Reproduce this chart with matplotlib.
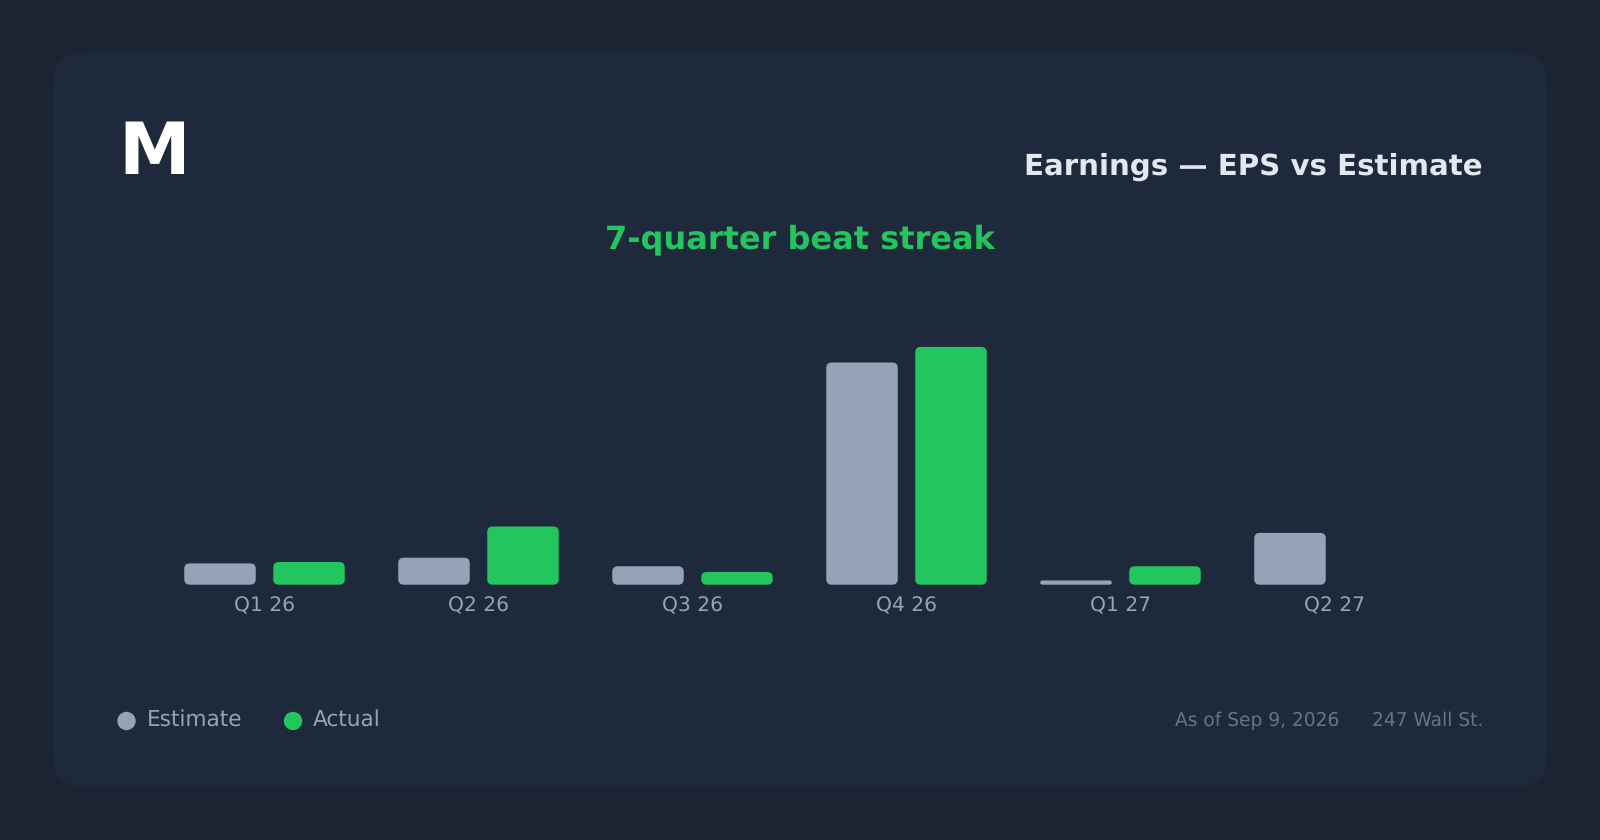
import matplotlib
matplotlib.use("Agg")
import matplotlib.pyplot as plt
from matplotlib.patches import FancyBboxPatch, Circle
from matplotlib.transforms import IdentityTransform

# ---- data ----
quarters = ["Q1 26", "Q2 26", "Q3 26", "Q4 26", "Q1 27", "Q2 27"]
estimate = [0.15, 0.19, 0.13, 1.565, 0.03, 0.365]
actual = [0.16, 0.41, 0.09, 1.675, 0.13, None]

W, H = 1600, 840
BG = "#1b2433"
CARD = "#1e293b"
GREY = "#94a3b8"
GREEN = "#22c55e"
MUTED = "#64748b"
LIGHT = "#e2e8f0"
plt.rcParams["font.family"] = "DejaVu Sans"
plt.rcParams["text.hinting"] = "no_hinting"


def pt(px):
    return px * 72 / 100


fig = plt.figure(figsize=(W / 100, H / 100), dpi=100, facecolor=BG)


def ftext(x, y, s, **kw):
    return fig.text(x / W, 1 - y / H, s, **kw)


# card
fig.add_artist(FancyBboxPatch((53, H - 786.5), 1494, 733.5,
                              boxstyle="round,pad=0,rounding_size=32",
                              transform=IdentityTransform(), fc=CARD, ec="none", zorder=0))

# chart axes
AX_L, AX_R, AX_B, AX_T = 157.5, 1441.5, 584.7, 300.7
ax = fig.add_axes([AX_L / W, 1 - AX_B / H, (AX_R - AX_L) / W, (AX_B - AX_T) / H])
ax.patch.set_visible(False)
ax.set_xlim(-0.5, 5.5)
ax.set_ylim(0, 2.0)
for s in ax.spines.values():
    s.set_visible(False)
ax.set_yticks([])
ax.set_xticks(range(len(quarters)))
ax.set_xticklabels(quarters, fontsize=pt(20.3), color=GREY)
ax.tick_params(axis="x", length=0, pad=8.2)

BAR_W = 71.5 / 214
OFF = 44.5 / 214
x_per_px = 6 / (AX_R - AX_L)
y_per_px = 2.0 / (AX_B - AX_T)
aspect = y_per_px / x_per_px


def rbar(xc, v, color):
    r = min(5.5 * x_per_px, (v / aspect) / 2)
    ax.add_patch(FancyBboxPatch((xc - BAR_W / 2, 0), BAR_W, v,
                                boxstyle=f"round,pad=0,rounding_size={r}",
                                mutation_aspect=aspect, fc=color, ec="none"))


for i in range(len(quarters)):
    if estimate[i] is not None:
        rbar(i - OFF, estimate[i], GREY)
    if actual[i] is not None:
        rbar(i + OFF, actual[i], GREEN)

# texts
ftext(118, 174, "M", fontsize=pt(72), fontweight="bold", color="white", ha="left", va="baseline")
ftext(1483, 175, "Earnings — EPS vs Estimate", fontsize=pt(29.3), fontweight="bold", color=LIGHT,
      ha="right", va="baseline")
ftext(800, 248, "7-quarter beat streak", fontsize=pt(32), fontweight="bold", color=GREEN,
      ha="center", va="baseline")

# legend
for cx, label, col in [(126.5, "Estimate", GREY), (293, "Actual", GREEN)]:
    fig.add_artist(Circle((cx, H - 721), 9.2, transform=IdentityTransform(), fc=col, ec="none"))
    ftext(cx + 20, 727, label, fontsize=pt(21.6), color=GREY, ha="left", va="baseline")

# footer
ftext(1339, 726, "As of Sep 9, 2026", fontsize=pt(18.7), color=MUTED, ha="right", va="baseline")
ftext(1483, 726, "247 Wall St.", fontsize=pt(18.7), color=MUTED, ha="right", va="baseline")

fig.savefig("out.png", dpi=100, facecolor=BG)
